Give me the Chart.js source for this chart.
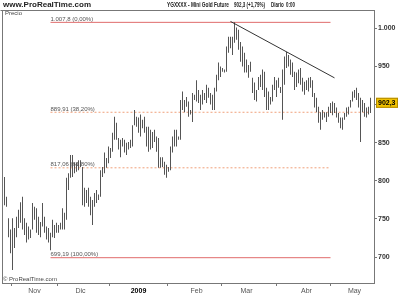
<!DOCTYPE html>
<html><head><meta charset="utf-8">
<script src="https://cdn.jsdelivr.net/npm/chart.js@4/dist/chart.umd.min.js"></script>
<style>html,body{margin:0;padding:0;background:#fff}#w{width:400px;height:300px;position:relative}</style>
</head><body><div id="w"><canvas id="c" width="400" height="300"></canvas></div>
<script>
const highs = [805,779,751,736,751,738,753,762,772,779,751,745,740,736,771,766,764,753,746,771,753,740,738,732,749,742,745,742,745,764,758,804,810,834,834,824,824,827,827,818,791,788,791,779,775,784,788,782,814,818,837,830,845,843,863,884,876,856,854,856,854,850,851,854,873,893,884,883,887,880,884,871,871,867,864,867,858,856,831,831,825,821,818,845,858,867,867,858,906,917,906,910,904,893,915,913,932,919,913,919,915,926,922,915,913,922,939,955,950,948,946,976,989,989,989,1008,1001,998,982,976,968,959,952,956,935,929,919,936,939,946,943,922,917,910,926,936,932,935,923,946,963,969,965,959,955,943,942,946,948,935,930,932,935,936,932,915,909,897,890,893,890,890,897,902,904,902,896,889,883,883,889,896,897,906,917,919,922,915,909,906,902,896,897,909];
const lows = [768,766,726,705,683,712,726,738,745,736,729,719,723,725,736,749,732,729,726,740,732,723,719,709,726,725,732,732,736,736,736,749,788,804,805,810,812,814,818,768,766,771,766,755,742,766,771,775,779,805,810,817,823,830,838,854,854,841,831,845,837,834,841,843,845,873,871,863,858,869,863,845,838,841,843,851,838,817,817,818,808,804,812,814,837,845,845,854,854,893,890,897,884,887,877,906,904,902,893,900,906,902,909,900,893,893,917,932,936,943,942,943,968,974,965,981,985,972,956,950,942,942,935,943,915,906,904,919,923,919,910,893,893,900,904,919,910,922,915,880,926,948,950,939,936,919,923,928,926,917,913,919,917,922,910,896,890,876,867,880,883,877,884,889,886,889,883,876,869,867,880,884,887,896,904,909,906,896,851,890,884,883,887,889];
const monthLabels = ['Nov','Dic','2009','Feb','Mar','Abr','May'];
const monthIdx = [15,38,67,96,121,151,175];
const yTicks = [700,750,800,850,900,950,1000];
const fibLevels = [1007.8, 889.91, 817.06, 699.19];
const fibTexts = ['1.007,8 (0,00%)','889,91 (38,20%)','817,06 (61,80%)','699,19 (100,00%)'];
const fibStart = [23,23,23,23];
const fibEnd = [163,183,163,163];
const trendX = [113,165];
const trendY = [1009,935];
const lastPrice = 902.3;

const fibDatasets = fibLevels.map((v,k)=>({
  type:'line', data:[{x:fibStart[k],y:v},{x:fibEnd[k],y:v}],
  borderColor:(k===0||k===3)?'#e06c6c':'#f0a07a', borderWidth:1,
  borderDash:(k===0||k===3)?[]:[2,2], pointRadius:0, order:2
}));

const overlay = {
  id:'overlay',
  afterDraw(chart){
    const c=chart.ctx, a=chart.chartArea, xs=chart.scales.x, ys=chart.scales.y;
    c.save();
    c.strokeStyle='#777'; c.lineWidth=1;
    c.beginPath(); c.moveTo(0.5,a.top+0.5); c.lineTo(a.right+0.5,a.top+0.5);
    c.moveTo(a.left+0.5,a.top); c.lineTo(a.left+0.5,a.bottom); c.stroke();
    c.fillStyle='#222'; c.textBaseline='middle';
    c.font='bold 8px "Liberation Sans", Arial';
    c.fillText('www.ProRealTime.com',3,5);
    c.font='bold 8px "Liberation Sans", Arial';
    c.fillText('YGXXXX - Mini Gold Future',167,5,62);
    c.fillText('902,3 (+1,79%)',234,5,31);
    c.fillText('Diario  0:00',271,5,24);
    c.font='6px "Liberation Sans", Arial'; c.fillStyle='#444';
    c.fillText('Precio',5,13);
    c.fillText('\u00a9 ProRealTime.com',3,279);
    c.textBaseline='alphabetic'; c.fillStyle='#555';
    fibLevels.forEach((v,k)=>{
      c.fillText(fibTexts[k], xs.getPixelForValue(fibStart[k]), ys.getPixelForValue(v)-1.5);
    });
    const py=ys.getPixelForValue(lastPrice);
    c.fillStyle='#f2c200'; c.fillRect(376,py-5,22,10);
    c.strokeStyle='#b08a00'; c.strokeRect(376.5,py-4.5,21,9);
    c.fillStyle='#000'; c.font='bold 7px "Liberation Sans", Arial'; c.textBaseline='middle';
    c.fillText('902,3',378,py+0.5);
    c.restore();
  }
};

new Chart(document.getElementById('c'),{
  type:'bar',
  data:{datasets:[
    {type:'bar', data:highs.map((h,i)=>({x:i,y:[lows[i],h]})), backgroundColor:'#555', borderWidth:0, barThickness:1, inflateAmount:0, order:1},
    ...fibDatasets,
    {type:'line', data:trendX.map((x,k)=>({x:x,y:trendY[k]})), borderColor:'#333', borderWidth:1, pointRadius:0, order:0}
  ]},
  options:{
    responsive:false, animation:false, devicePixelRatio:1,
    layout:{padding:{top:10,left:2,right:0,bottom:0}},
    plugins:{legend:{display:false},tooltip:{enabled:false}},
    scales:{
      x:{type:'linear', min:-1.25, max:184.75, offset:false,
        afterBuildTicks(s){s.ticks=monthIdx.map(v=>({value:v}));},
        afterFit(s){s.height=17;},
        grid:{drawOnChartArea:false, drawTicks:true, tickLength:3, color:'#777'},
        border:{color:'#777'},
        ticks:{autoSkip:false, maxRotation:0, padding:1,
          callback:(v)=>monthLabels[monthIdx.indexOf(v)],
          font:(ctx)=>({family:'"Liberation Sans", Arial', size:7, weight:(ctx.tick&&ctx.tick.value===67)?'bold':'normal'}),
          color:(ctx)=>(ctx.tick&&ctx.tick.value===67)?'#000':'#555'}
      },
      y:{position:'right', min:666, max:1024,
        afterBuildTicks(s){s.ticks=yTicks.map(v=>({value:v}));},
        afterFit(s){s.width=26;},
        grid:{drawOnChartArea:false, drawTicks:true, tickLength:3, color:'#777'},
        border:{color:'#777'},
        ticks:{padding:1, color:'#333', font:{family:'"Liberation Sans", Arial', size:7, weight:'bold'},
          callback:(v)=>v>=1000?'1.000':String(v)}
      }
    }
  },
  plugins:[overlay]
});
</script></body></html>
